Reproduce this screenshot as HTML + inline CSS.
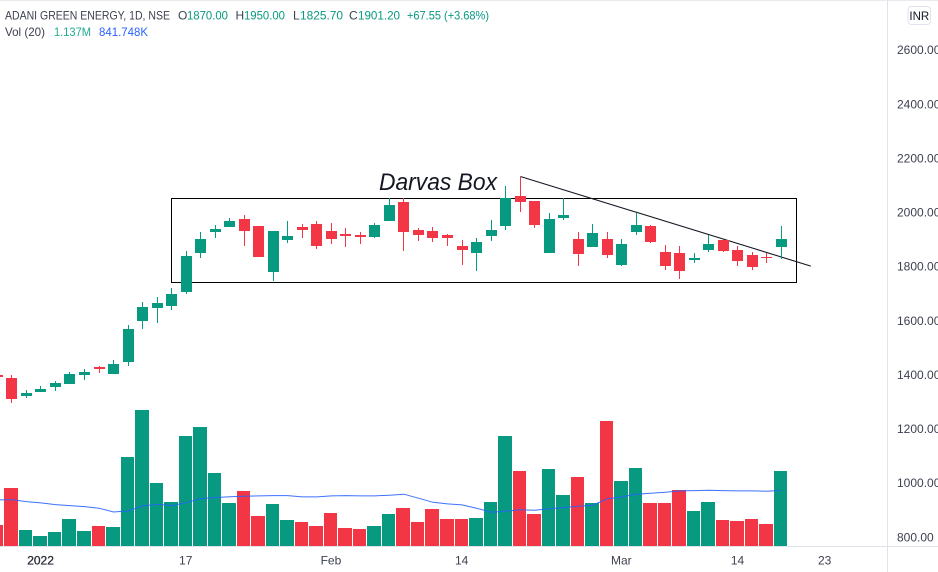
<!DOCTYPE html>
<html lang="en">
<head>
<meta charset="utf-8">
<title>ADANI GREEN ENERGY Darvas Box chart</title>
<style>
html,body{margin:0;padding:0;background:#fff;}
body{width:938px;height:572px;overflow:hidden;position:relative;font-family:"Liberation Sans",sans-serif;}
svg{position:absolute;left:0;top:0;display:block;}
text{font-family:"Liberation Sans",sans-serif;}
</style>
</head>
<body>
<svg id="chart" width="938" height="572" viewBox="0 0 938 572" xmlns="http://www.w3.org/2000/svg">
  <rect x="0" y="0" width="938" height="1" fill="#e8eaf0"/>
  <g id="volumes" shape-rendering="crispEdges"></g>
  <polyline id="volMa" fill="none" stroke="#2962ff" stroke-width="1" stroke-opacity="0.9"/>
  <g id="drawings"></g>
  <g id="candles" shape-rendering="crispEdges"></g>
  <text x="379" y="190" font-size="24" font-style="italic" fill="#131722" textLength="118" lengthAdjust="spacingAndGlyphs">Darvas Box</text>
  <rect x="0" y="546" width="938" height="1" fill="#e0e3eb" shape-rendering="crispEdges"/>
  <rect x="887" y="0" width="1" height="572" fill="#e0e3eb" shape-rendering="crispEdges"/>
  <g id="priceTicks"></g>
  <g id="timeTicks"></g>
  <rect x="908" y="6.5" width="22.5" height="18" rx="3.5" fill="#fff" stroke="#e0e3eb"/>
  <text x="919.3" y="20" font-size="11.5" text-anchor="middle" fill="#131722">INR</text>
  <g font-size="12">
    <text x="5" y="19.5" fill="#3d4150" textLength="165" lengthAdjust="spacingAndGlyphs">ADANI GREEN ENERGY, 1D, NSE</text>
    <text x="178" y="19.5" fill="#3d4150">O</text>
    <text x="187" y="19.5" fill="#089981" textLength="41" lengthAdjust="spacingAndGlyphs">1870.00</text>
    <text x="235.5" y="19.5" fill="#3d4150">H</text>
    <text x="244" y="19.5" fill="#089981" textLength="41" lengthAdjust="spacingAndGlyphs">1950.00</text>
    <text x="293" y="19.5" fill="#3d4150">L</text>
    <text x="300" y="19.5" fill="#089981" textLength="43" lengthAdjust="spacingAndGlyphs">1825.70</text>
    <text x="349" y="19.5" fill="#3d4150">C</text>
    <text x="358" y="19.5" fill="#089981" textLength="42" lengthAdjust="spacingAndGlyphs">1901.20</text>
    <text x="407" y="19.5" fill="#089981" textLength="82" lengthAdjust="spacingAndGlyphs">+67.55 (+3.68%)</text>
  </g>
  <g font-size="12">
    <text x="5" y="36" fill="#3d4150" textLength="40" lengthAdjust="spacingAndGlyphs">Vol (20)</text>
    <text x="54" y="36" fill="#22ab94" textLength="37" lengthAdjust="spacingAndGlyphs">1.137M</text>
    <text x="99" y="36" fill="#2962ff" textLength="49" lengthAdjust="spacingAndGlyphs">841.748K</text>
  </g>
</svg>
<script>
// Session index of the first array element (partly cut off at the left edge)
const firstIndex = -1;
const opens  = [1399,1388,1321,1336,1354,1366,1399,1428,1402,1447,1598,1646,1654,1705,1849,1927,1945,1975,1949,1779,1897,1945,1957,1931,1920,1916,1909,1968,2038,1934,1931,1916,1875,1849,1912,1949,2060,2041,1849,1979,1901,1872,1901,1805,1927,1949,1853,1849,1824,1861,1897,1861,1842,1835,1870];
const highs  = [1402,1399,1343,1358,1377,1410,1421,1432,1454,1583,1668,1687,1720,1857,1927,1953,1979,1990,1949,1931,1968,1957,1968,1960,1942,1927,1960,2053,2053,1942,1945,1920,1897,1905,1971,2097,2130,2041,1997,2053,1927,1957,1927,1901,1997,1953,1879,1875,1849,1916,1897,1875,1853,1849,1950];
const lows   = [1388,1295,1314,1336,1340,1366,1380,1406,1402,1432,1569,1591,1639,1698,1831,1905,1945,1875,1835,1746,1886,1905,1864,1883,1872,1883,1905,1968,1857,1894,1890,1875,1805,1783,1894,1934,2001,1942,1849,1971,1801,1872,1831,1801,1916,1886,1787,1753,1812,1853,1853,1801,1787,1812,1825.7];
const closes = [1391,1310,1332,1347,1369,1402,1410,1421,1439,1569,1650,1665,1698,1838,1901,1938,1968,1931,1835,1931,1912,1934,1875,1901,1912,1909,1953,2027,1927,1916,1905,1905,1861,1890,1934,2053,2038,1953,1975,1990,1846,1923,1842,1883,1953,1890,1801,1783,1831,1883,1857,1820,1798,1831,1901.2];
// Volume and 20-period average, in thousands
const volumes = [318,879,243,152,212,409,227,303,288,1349,2062,955,667,1668,1804,1107,652,834,455,637,394,364,303,500,273,258,303,485,576,364,561,409,409,424,667,1668,1137,485,1167,773,1046,652,1895,985,1182,652,652,849,531,667,394,379,409,333,1137];
const volumeMa = [697,702,672,652,626,611,596,572,515,531,606,632,611,656,717,732,747,753,758,763,763,743,743,758,763,758,758,769,784,723,662,637,622,572,511,526,550,541,565,581,602,617,713,743,784,799,814,834,838,844,838,834,834,829,842];
const priceTickValues = [2600,2400,2200,2000,1800,1600,1400,1200,1000,800];
const priceTickLabels = ["2600.00","2400.00","2200.00","2000.00","1800.00","1600.00","1400.00","1200.00","1000.00","800.00"];
const timeTickIndexes = [2,12,22,31,42,50,56];
const timeTickLabels = ["2022","17","Feb","14","Mar","14","23"];
// Darvas box: session range and price range
const boxSessions = [11,54.05];
const boxPrices = [2051,1741];
// Trend line: session and price at each end
const trendSessions = [35.05,55.05];
const trendPrices = [2132,1801];

const NS = "http://www.w3.org/2000/svg";
const GREEN = "#089981", RED = "#f23645";
const yPrice = p => (2784 - p) / 3.694;
const yVol = v => 546 - v / 15.138;
const leftOf = i => Math.round(6.4 + 14.52 * i);
const xLine = i => 11.9 + 14.52 * i;
function make(tag, attrs, parent){
  const el = document.createElementNS(NS, tag);
  for (const k in attrs) el.setAttribute(k, attrs[k]);
  parent.appendChild(el);
  return el;
}
const volG = document.getElementById("volumes");
volumes.forEach((v, n) => {
  const i = n + firstIndex;
  const up = closes[n] >= opens[n];
  const l = leftOf(i) - 2, r = leftOf(i + 1) - 3;
  const top = Math.round(yVol(v));
  const bar = make("rect", {x:l, y:top, width:r - l, height:546 - top, fill: up ? GREEN : RED}, volG);
  
  
});
document.getElementById("volMa").setAttribute("points",
  volumeMa.map((v, n) => xLine(n + firstIndex).toFixed(1) + "," + yVol(v).toFixed(1)).join(" "));

const candleG = document.getElementById("candles");
opens.forEach((o, n) => {
  const i = n + firstIndex;
  const c = closes[n];
  const color = c >= o ? GREEN : RED;
  const l = leftOf(i);
  const g = make("g", {}, candleG);
  
  
  const yH = Math.round(yPrice(highs[n])), yL = Math.round(yPrice(lows[n]));
  make("rect", {x:l + 5, y:yH, width:1, height:Math.max(1, yL - yH), fill:color}, g);
  const t = Math.round(yPrice(Math.max(o, c))), b = Math.round(yPrice(Math.min(o, c)));
  make("rect", {x:l, y:t, width:11, height:Math.max(1, b - t), fill:color}, g);
});

const draw = document.getElementById("drawings");
const bx = xLine(boxSessions[0]) - 0.4, bx2 = xLine(boxSessions[1]) - 0.4;
const by = yPrice(boxPrices[0]), by2 = yPrice(boxPrices[1]);
const box = make("rect", {x:Math.round(bx) + 0.5, y:Math.round(by) + 0.5, width:Math.round(bx2 - bx), height:Math.round(by2 - by), fill:"none", stroke:"#000", "stroke-width":1}, draw);


const trend = make("line", {x1:xLine(trendSessions[0]) - 0.4, y1:yPrice(trendPrices[0]), x2:xLine(trendSessions[1]) - 0.4, y2:yPrice(trendPrices[1]), stroke:"#131722", "stroke-width":1.1}, draw);



const pt = document.getElementById("priceTicks");
priceTickValues.forEach((p, n) => {
  const t = make("text", {x:897, y:yPrice(p) + 4.3, "font-size":12, fill:"#3d4150"}, pt);
  t.textContent = priceTickLabels[n];
  
  
});
const tt = document.getElementById("timeTicks");
timeTickIndexes.forEach((idx, n) => {
  const attrs = {x:xLine(idx) - 0.4, y:564.5, "font-size":12, "text-anchor":"middle", fill:"#3d4150"};
  if (timeTickLabels[n] === "2022") { attrs.fill = "#2a2e39"; attrs.stroke = "#2a2e39"; attrs["stroke-width"] = 0.3; }
  const t = make("text", attrs, tt);
  t.textContent = timeTickLabels[n];
  
  
});
</script>
</body>
</html>
